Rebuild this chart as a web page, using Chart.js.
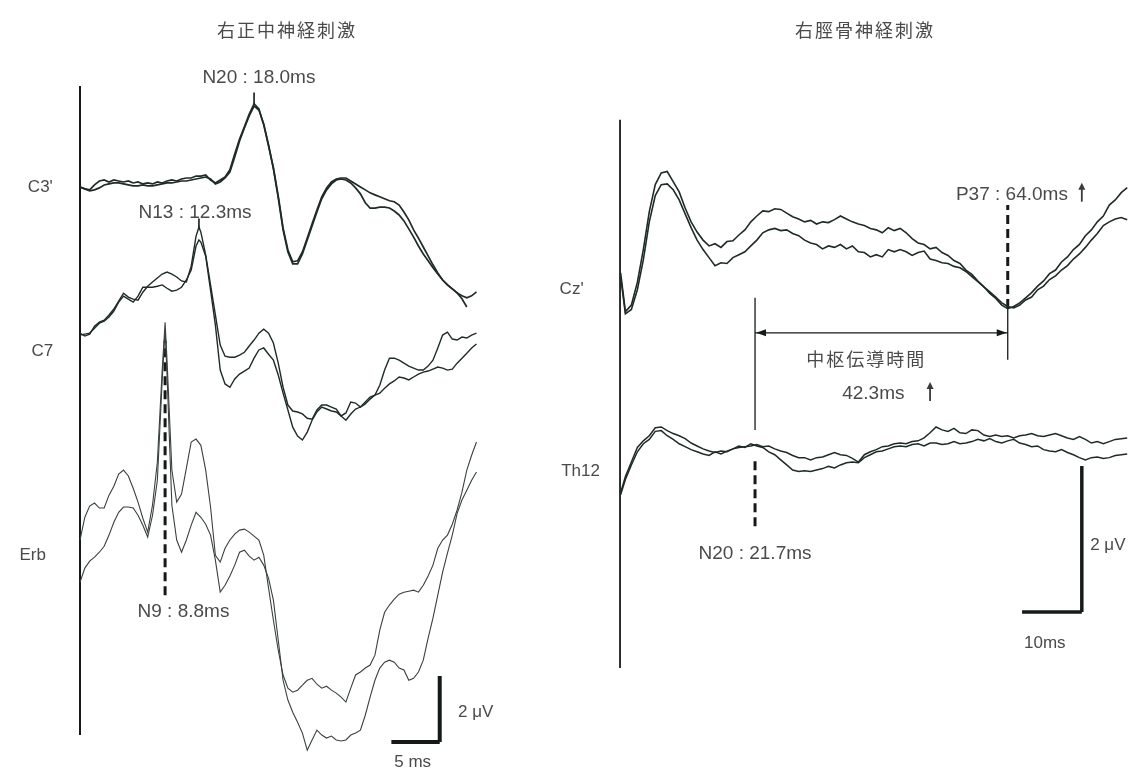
<!DOCTYPE html>
<html lang="ja">
<head>
<meta charset="utf-8">
<title>SEP 右正中神経・右脛骨神経刺激</title>
<script src="https://cdn.jsdelivr.net/npm/chart.js@4.4.1/dist/chart.umd.min.js"></script>
<style>
  html, body { margin: 0; padding: 0; background: #fff; }
  #wrap { width: 1142px; height: 773px; }
</style>
</head>
<body>
<div id="wrap"><canvas id="sep" width="1142" height="773"></canvas></div>
<script>
// ---- channel names and titles ----
const titles = ['右正中神経刺激', '右脛骨神経刺激'];
const leftChannels = ["C3'", 'C7', 'Erb'];
const rightChannels = ["Cz'", 'Th12'];
const cctLabel = '中枢伝導時間';

// ---- peak latencies (ms) ----
const leftPeaks = [
  { name: 'N20', ms: 18.0 },
  { name: 'N13', ms: 12.3 },
  { name: 'N9', ms: 8.8 }
];
const rightPeaks = [
  { name: 'N20', ms: 21.7 },
  { name: 'P37', ms: 64.0 }
];

// calibration bars
const leftScaleBar = { ms: 5, uv: 2 };
const rightScaleBar = { ms: 10, uv: 2 };

// ---- sample times (ms) ----
const c3Times = [0,0.5,1,1.5,2,2.5,3,3.5,4,4.5,5,5.5,6,6.5,7,7.5,8,8.5,9,9.5,10,10.5,11,11.5,12,12.5,13,13.5,14,14.5,15,15.5,16,16.5,17,17.5,18,18.5,19,19.5,20,20.5,21,21.5,22,22.5,23,23.5,24,24.5,25,25.5,26,26.5,27,27.5,28,28.5,29,29.5,30,30.5,31,31.5,32,32.5,33,33.5,34,34.5,35,35.5,36,36.5,37,37.5,38,38.5,39,39.5,40,40.5,41];
const c7Times = [0,0.5,1,1.5,2,2.5,3,3.5,4,4.5,5,5.5,6,6.5,7,7.5,8,8.5,9,9.5,10,10.5,11,11.5,12,12.3,12.5,13,13.5,14,14.5,15,15.5,16,16.5,17,17.5,18,18.5,19,19.5,20,20.5,21,21.5,22,22.5,23,23.5,24,24.5,25,25.5,26,26.5,27,27.5,28,28.5,29,29.5,30,30.5,31,31.5,32,32.5,33,33.5,34,34.5,35,35.5,36,36.5,37,37.5,38,38.5,39,39.5,40,40.5,41];
const erbTimes = [0,0.5,1,1.5,2,2.5,3,3.5,4,4.5,5,5.5,6,6.5,7,7.5,8,8.5,8.8,9,9.5,10,10.5,11,11.5,12,12.5,13,13.5,14,14.5,15,15.5,16,16.5,17,17.5,18,18.5,19,19.5,20,20.5,21,21.5,22,22.5,23,23.5,24,24.5,25,25.5,26,26.5,27,27.5,28,28.5,29,29.5,30,30.5,31,31.5,32,32.5,33,33.5,34,34.5,35,35.5,36,36.5,37,37.5,38,38.5,39,39.5,40,40.5,41];
const rightTimes = [-0.8,0,1,2,3,4,5,6,7,8,9,10,11,12,13,14,15,16,17,18,19,20,21,22,23,24,25,26,27,28,29,30,31,32,33,34,35,36,37,38,39,40,41,42,43,44,45,46,47,48,49,50,51,52,53,54,55,56,57,58,59,60,61,62,63,64,65,66,67,68,69,70,71,72,73,74,75,76,77,78,79,80,81,82,83,84];

// ---- amplitudes (uV, relative to each channel's baseline), two trials per channel ----
const c3TraceA = [
  0, -0.06, -0.09, 0.06, 0.18, 0.21, 0.15, 0.21, 0.18, 0.15,
  0.18, 0.12, 0.15, 0.09, 0.12, 0.09, 0.15, 0.12, 0.18, 0.21,
  0.18, 0.24, 0.27, 0.27, 0.33, 0.33, 0.36, 0.21, 0.12, 0.21,
  0.3, 0.52, 1.0, 1.45, 1.82, 2.21, 2.52, 2.36, 1.88, 1.24,
  0.58, -0.27, -1.24, -1.91, -2.27, -2.24, -1.97, -1.55, -1.12, -0.7,
  -0.3, -0.03, 0.15, 0.24, 0.27, 0.27, 0.18, 0.09, 0, -0.09,
  -0.18, -0.24, -0.3, -0.36, -0.42, -0.45, -0.55, -0.76, -1.0, -1.3,
  -1.55, -1.82, -2.09, -2.36, -2.61, -2.82, -2.97, -3.09, -3.21, -3.3,
  -3.36, -3.3, -3.18
];
const c3TraceB = [
  0, -0.06, -0.12, -0.09, -0.03, 0.06, 0.09, 0.12, 0.12, 0.09,
  0.06, 0.03, 0.03, 0.06, 0.03, 0.03, 0.06, 0.09, 0.12, 0.12,
  0.15, 0.18, 0.18, 0.21, 0.24, 0.27, 0.3, 0.24, 0.09, 0.15,
  0.27, 0.45, 0.91, 1.39, 1.79, 2.15, 2.45, 2.33, 1.91, 1.27,
  0.55, -0.33, -1.3, -1.97, -2.33, -2.33, -2.03, -1.61, -1.18, -0.76,
  -0.36, -0.09, 0.09, 0.21, 0.24, 0.21, 0.12, -0.03, -0.21, -0.48,
  -0.64, -0.64, -0.61, -0.61, -0.64, -0.73, -0.85, -1.03, -1.27, -1.52,
  -1.79, -2.03, -2.24, -2.45, -2.64, -2.82, -2.97, -3.09, -3.21, -3.39,
  -3.64
];
const c7TraceA = [
  0.06, -0.03, 0.03, 0.27, 0.39, 0.45, 0.61, 0.79, 1.03, 1.27,
  1.15, 1.09, 1.06, 1.3, 1.48, 1.61, 1.73, 1.85, 1.91, 1.85,
  1.76, 1.64, 1.61, 2.09, 3.0, 3.27, 3.12, 2.42, 1.52, 0.61, -0.3,
  -0.64, -0.67, -0.67, -0.61, -0.52, -0.33, -0.15, 0.06, 0.18, 0.06,
  -0.24, -0.85, -1.58, -2.12, -2.3, -2.33, -2.39, -2.52, -2.55, -2.27,
  -2.12, -2.12, -2.18, -2.24, -2.45, -2.36, -2.03, -2.06, -2.18, -2.09,
  -1.94, -1.82, -1.52, -1.06, -0.7, -0.7, -0.76, -0.85, -0.94, -1.0,
  -1.06, -1.06, -0.94, -0.76, -0.39, 0, 0.09, -0.12, -0.15, -0.06,
  -0.09, 0, 0.06
];
const c7TraceB = [
  0, 0.03, 0.06, 0.21, 0.36, 0.42, 0.55, 0.73, 1.0, 1.18,
  1.09, 1.0, 1.18, 1.45, 1.45, 1.45, 1.48, 1.52, 1.42, 1.33,
  1.36, 1.45, 1.67, 1.97, 2.7, 2.88, 2.82, 2.39, 1.36, 0.3, -1.06,
  -1.48, -1.58, -1.33, -1.18, -1.09, -1.0, -0.7, -0.45, -0.39, -0.58,
  -0.76, -1.21, -1.76, -2.27, -2.79, -3.06, -3.18, -2.94, -2.58, -2.33,
  -2.18, -2.24, -2.3, -2.33, -2.45, -2.58, -2.39, -2.24, -2.18, -2.03,
  -1.88, -1.82, -1.76, -1.61, -1.48, -1.39, -1.27, -1.3, -1.36, -1.27,
  -1.18, -1.12, -1.09, -1.03, -0.97, -1.0, -1.06, -1.03, -0.85, -0.7,
  -0.55, -0.39, -0.27
];
const erbTraceA = [
  0.61, 1.3, 1.64, 1.73, 1.58, 1.58, 1.97, 2.24, 2.61, 2.73,
  2.55, 2.18, 1.76, 1.27, 0.85, 1.67, 2.97, 5.76, 7.21, 6.06, 2.73,
  1.76, 2.0, 2.79, 3.58, 3.67, 3.48, 2.73, 1.61, 0.15, -0.06,
  0.36, 0.61, 0.79, 0.91, 0.94, 0.85, 0.73, 0.61, 0.15, -0.85,
  -1.82, -2.73, -3.48, -3.88, -4.0, -3.94, -3.79, -3.64, -3.58, -3.76,
  -3.88, -3.82, -3.94, -4.03, -4.15, -4.3, -3.88, -3.48, -3.39, -3.27,
  -3.18, -2.88, -2.12, -1.58, -1.36, -1.18, -1.03, -0.97, -0.94, -0.91,
  -0.97, -0.76, -0.48, -0.15, 0.36, 0.61, 0.76, 1.09, 1.52, 2.06,
  2.73, 3.18, 3.58
];
const erbTraceB = [
  -0.67, -0.24, -0.03, 0.09, 0.24, 0.42, 0.76, 1.15, 1.45, 1.61,
  1.61, 1.58, 1.36, 1.06, 0.7, 1.36, 2.42, 5.45, 6.97, 5.61, 1.67,
  0.61, 0.24, 0.61, 1.06, 1.45, 1.3, 1.09, 0.76, 0, -0.97,
  -0.76, -0.48, -0.15, 0.24, 0.3, 0.12, 0, 0.09, -0.15, -0.55,
  -1.21, -2.42, -3.64, -4.24, -4.61, -4.91, -5.24, -5.76, -5.45, -5.15,
  -5.3, -5.39, -5.33, -5.45, -5.48, -5.45, -5.3, -5.24, -5.15, -4.7,
  -4.15, -3.64, -3.27, -3.09, -3.03, -3.09, -3.27, -3.33, -3.64, -3.58,
  -3.39, -3.03, -2.36, -1.76, -1.06, -0.36, 0.21, 0.76, 1.42, 1.82,
  2.12, 2.42, 2.67
];
const czTraceA = [
  0.23, -0.3,
  -0.21, 0.1, 0.55, 1.07, 1.44, 1.6, 1.62, 1.48, 1.34, 1.12,
  0.93, 0.79, 0.68, 0.6, 0.63, 0.58, 0.66, 0.67, 0.75, 0.82,
  0.93, 1.01, 1.08, 1.07, 1.11, 1.1, 1.05, 1.0, 0.97, 0.93,
  0.95, 0.9, 0.93, 0.92, 0.96, 1.01, 0.97, 0.93, 0.9, 0.88,
  0.84, 0.82, 0.78, 0.85, 0.81, 0.84, 0.78, 0.7, 0.64, 0.62,
  0.56, 0.58, 0.51, 0.47, 0.4, 0.36, 0.27, 0.21, 0.12, 0.04,
  -0.05, -0.12, -0.21, -0.26, -0.23, -0.18, -0.11, -0.04, 0.05, 0.12,
  0.22, 0.27, 0.38, 0.45, 0.55, 0.62, 0.74, 0.82, 0.93, 1.01,
  1.16, 1.23, 1.33, 1.4
];
const czTraceB = [
  0.18, -0.33,
  -0.27, 0, 0.41, 0.93, 1.29, 1.44, 1.45, 1.37, 1.23, 1.04,
  0.85, 0.68, 0.55, 0.44, 0.33, 0.37, 0.36, 0.44, 0.48, 0.52,
  0.6, 0.68, 0.78, 0.82, 0.84, 0.81, 0.82, 0.77, 0.74, 0.68,
  0.64, 0.62, 0.56, 0.6, 0.58, 0.62, 0.56, 0.6, 0.52, 0.51,
  0.45, 0.48, 0.45, 0.55, 0.52, 0.55, 0.52, 0.47, 0.51, 0.53,
  0.42, 0.4, 0.37, 0.36, 0.32, 0.3, 0.25, 0.18, 0.11, 0.04,
  -0.03, -0.1, -0.18, -0.23, -0.25, -0.21, -0.14, -0.1, 0, 0.05,
  0.14, 0.19, 0.27, 0.33, 0.42, 0.49, 0.58, 0.68, 0.77, 0.88,
  0.93, 0.97, 0.99, 0.96
];
const thTraceA = [
  -0.52, -0.3,
  -0.1, 0.1, 0.19, 0.26, 0.37, 0.38, 0.33, 0.29, 0.26, 0.22,
  0.16, 0.12, 0.08, 0.05, 0.03, 0.05, 0.04, 0.08, 0.1, 0.11,
  0.12, 0.14, 0.11, 0.12, 0.08, 0.05, 0.03, -0.01, -0.04, -0.04,
  -0.07, -0.04, -0.03, 0, 0.03, 0, -0.01, -0.05, -0.1, 0,
  0.04, 0.07, 0.11, 0.12, 0.15, 0.16, 0.15, 0.18, 0.19, 0.23,
  0.3, 0.38, 0.34, 0.32, 0.36, 0.3, 0.29, 0.34, 0.33, 0.27,
  0.25, 0.27, 0.25, 0.26, 0.23, 0.26, 0.27, 0.29, 0.26, 0.25,
  0.27, 0.29, 0.26, 0.23, 0.21, 0.25, 0.21, 0.16, 0.18, 0.15,
  0.18, 0.21, 0.22, 0.23
];
const thTraceB = [
  -0.55, -0.34,
  -0.14, 0.04, 0.15, 0.21, 0.32, 0.33, 0.26, 0.21, 0.15, 0.11,
  0.07, 0.04, 0.01, -0.01, 0.04, 0.01, 0.05, 0.08, 0.12, 0.1,
  0.15, 0.12, 0.1, 0.04, 0, -0.07, -0.14, -0.21, -0.23, -0.22,
  -0.23, -0.21, -0.19, -0.16, -0.18, -0.14, -0.11, -0.1, -0.11, -0.04,
  0, 0.04, 0.05, 0.08, 0.11, 0.12, 0.11, 0.14, 0.15, 0.12,
  0.16, 0.16, 0.14, 0.15, 0.18, 0.15, 0.16, 0.18, 0.21, 0.19,
  0.22, 0.18, 0.16, 0.19, 0.21, 0.16, 0.14, 0.11, 0.12, 0.07,
  0.05, 0.04, 0.07, 0.03, 0, -0.04, -0.07, -0.04, -0.03, -0.05,
  -0.04, -0.01, 0, 0.01
];

// ---- page geometry: where t = 0 sits and the gain of each panel ----
const W = 1142, H = 773;
const LEFT = { x0: 80, pxPerMs: 9.67, pxPerUv: 33 };
const RIGHT = { x0: 625.4, pxPerMs: 5.974, pxPerUv: 73 };
// channel baselines on each panel's uV axis (stack offsets)
const leftOffsets = [17.76, 13.27, 6.45];
const rightOffsets = [6.62, 4.36];

const INK = '#1f2b26';
const TEXT = '#4a4a4a';
const LATIN = '"Liberation Sans", Arial, sans-serif';
const CJK = '"Noto Sans CJK JP", sans-serif';

function trace(times, values, offset, side, width, color) {
  return {
    data: values.map((v, i) => ({ x: times[i], y: offset + v })),
    xAxisID: 'x' + side, yAxisID: 'y' + side,
    borderColor: color || INK, borderWidth: width,
    pointRadius: 0, tension: 0, fill: false, clip: false
  };
}

function segment(side, x1, y1, x2, y2, width, dash) {
  return {
    data: [{ x: x1, y: y1 }, { x: x2, y: y2 }],
    xAxisID: 'x' + side, yAxisID: 'y' + side,
    borderColor: '#151a18', borderWidth: width, borderDash: dash || [],
    borderCapStyle: 'butt', pointRadius: 0, fill: false, clip: false
  };
}

const [n20, n13, n9] = leftPeaks;
const [n20r, p37] = rightPeaks;
const cct = +(p37.ms - n20r.ms).toFixed(1);

const datasets = [
  trace(c3Times, c3TraceA, leftOffsets[0], 'L', 1.7),
  trace(c3Times, c3TraceB, leftOffsets[0], 'L', 1.7),
  trace(c7Times, c7TraceA, leftOffsets[1], 'L', 1.4),
  trace(c7Times, c7TraceB, leftOffsets[1], 'L', 1.4),
  trace(erbTimes, erbTraceA, leftOffsets[2], 'L', 1.1, '#3a413d'),
  trace(erbTimes, erbTraceB, leftOffsets[2], 'L', 1.1, '#3a413d'),
  trace(rightTimes, czTraceA, rightOffsets[0], 'R', 1.6),
  trace(rightTimes, czTraceB, rightOffsets[0], 'R', 1.6),
  trace(rightTimes, thTraceA, rightOffsets[1], 'R', 1.5),
  trace(rightTimes, thTraceB, rightOffsets[1], 'R', 1.5),

  // left panel: stimulus line, peak ticks, N9 marker, calibration
  segment('L', 0, 1.15, 0, 20.82, 2),
  segment('L', n20.ms, 20.25, n20.ms, 20.62, 1.6),
  segment('L', n13.ms, 16.5, n13.ms, 16.8, 1.6),
  segment('L', n9.ms, 5.39, n9.ms, 13.1, 3, [9, 5]),
  segment('L', 37.2 - leftScaleBar.ms, 0.94, 37.2, 0.94, 4),
  segment('L', 37.2, 0.94, 37.2, 0.94 + leftScaleBar.uv, 4),

  // right panel: stimulus line, P37 / N20 markers, conduction bracket, calibration
  segment('R', -0.9, 1.44, -0.9, 8.95, 1.8),
  segment('R', p37.ms, 6.37, p37.ms, 7.78, 3, [9, 5]),
  segment('R', p37.ms, 5.66, p37.ms, 6.37, 1.3),
  segment('R', n20r.ms, 4.70, n20r.ms, 6.51, 1.3),
  segment('R', n20r.ms, 3.38, n20r.ms, 4.29, 3, [9, 5]),
  segment('R', n20r.ms, 6.03, p37.ms, 6.03, 1.3),
  segment('R', 76.4 - rightScaleBar.ms, 2.205, 76.4, 2.205, 3.5),
  segment('R', 76.4, 2.205, 76.4, 2.205 + rightScaleBar.uv, 3.5)
];

const fmt = p => p.name + ' : ' + p.ms.toFixed(1) + 'ms';
const chartTexts = [
  { side: 'L', x: 21.4, y: 22.52, text: titles[0], font: '18px ' + CJK, spacing: '2px' },
  { side: 'R', x: 40.1, y: 10.18, text: titles[1], font: '18px ' + CJK, spacing: '2px' },
  { side: 'L', x: -4.1, y: leftOffsets[0], text: leftChannels[0], font: '17px ' + LATIN },
  { side: 'L', x: -3.9, y: 12.79, text: leftChannels[1], font: '17px ' + LATIN },
  { side: 'L', x: -4.9, y: 6.6, text: leftChannels[2], font: '17px ' + LATIN },
  { side: 'R', x: -9.0, y: 6.62, text: rightChannels[0], font: '17px ' + LATIN },
  { side: 'R', x: -7.5, y: 4.13, text: rightChannels[1], font: '17px ' + LATIN },
  { side: 'L', x: n20.ms + 0.5, y: 21.06, text: fmt(n20), font: '19px ' + LATIN },
  { side: 'L', x: n13.ms - 0.4, y: 16.97, text: fmt(n13), font: '19px ' + LATIN },
  { side: 'L', x: n9.ms + 1.9, y: 4.88, text: fmt(n9), font: '19px ' + LATIN },
  { side: 'L', x: 39.1, y: 1.85, text: leftScaleBar.uv + ' μV', font: '17px ' + LATIN, align: 'left' },
  { side: 'L', x: 34.4, y: 0.33, text: leftScaleBar.ms + ' ms', font: '17px ' + LATIN },
  { side: 'R', x: p37.ms + 0.7, y: 7.92, text: fmt(p37), font: '19px ' + LATIN },
  { side: 'R', x: 40.3, y: 5.67, text: cctLabel, font: '18px ' + CJK, spacing: '2px' },
  { side: 'R', x: 41.5, y: 5.19, text: cct.toFixed(1) + 'ms', font: '19px ' + LATIN },
  { side: 'R', x: n20r.ms, y: 3.01, text: fmt(n20r), font: '19px ' + LATIN },
  { side: 'R', x: 77.8, y: 3.12, text: rightScaleBar.uv + ' μV', font: '17px ' + LATIN, align: 'left' },
  { side: 'R', x: 70.2, y: 1.78, text: rightScaleBar.ms + 'ms', font: '17px ' + LATIN }
];
// small "prolonged" arrows after the P37 latency and the conduction time
const upArrows = [
  { side: 'R', x: 76.4, y: 7.95 },
  { side: 'R', x: 51.0, y: 5.22 }
];

// labels, up-arrows and the arrowheads of the conduction-time bracket
const annotations = {
  id: 'annotations',
  afterDatasetsDraw(chart) {
    const { ctx, scales } = chart;
    ctx.save();
    for (const t of chartTexts) {
      ctx.font = t.font;
      ctx.fillStyle = TEXT;
      ctx.textAlign = t.align || 'center';
      ctx.textBaseline = 'middle';
      ctx.letterSpacing = t.spacing || '0px';
      ctx.fillText(t.text, scales['x' + t.side].getPixelForValue(t.x), scales['y' + t.side].getPixelForValue(t.y));
    }
    ctx.strokeStyle = '#3a3a3a';
    ctx.fillStyle = '#3a3a3a';
    ctx.lineWidth = 1.8;
    for (const a of upArrows) {
      const x = scales['x' + a.side].getPixelForValue(a.x);
      const y = scales['y' + a.side].getPixelForValue(a.y);
      ctx.beginPath();
      ctx.moveTo(x, y + 9); ctx.lineTo(x, y - 4);
      ctx.stroke();
      ctx.beginPath();
      ctx.moveTo(x, y - 10); ctx.lineTo(x - 3.5, y - 3); ctx.lineTo(x + 3.5, y - 3); ctx.closePath();
      ctx.fill();
    }
    const y = scales.yR.getPixelForValue(6.03);
    const xa = scales.xR.getPixelForValue(n20r.ms);
    const xb = scales.xR.getPixelForValue(p37.ms);
    ctx.fillStyle = '#151a18';
    ctx.beginPath();
    ctx.moveTo(xa + 1, y); ctx.lineTo(xa + 11, y - 3.5); ctx.lineTo(xa + 11, y + 3.5); ctx.closePath();
    ctx.moveTo(xb - 1, y); ctx.lineTo(xb - 11, y - 3.5); ctx.lineTo(xb - 11, y + 3.5); ctx.closePath();
    ctx.fill();
    ctx.restore();
  }
};

new Chart(document.getElementById('sep'), {
  type: 'line',
  data: { datasets },
  plugins: [annotations],
  options: {
    responsive: false,
    animation: false,
    devicePixelRatio: 1,
    layout: { padding: 0 },
    plugins: { legend: { display: false }, tooltip: { enabled: false } },
    scales: {
      xL: { type: 'linear', axis: 'x', display: false, min: -LEFT.x0 / LEFT.pxPerMs, max: (W - LEFT.x0) / LEFT.pxPerMs },
      yL: { type: 'linear', axis: 'y', display: false, min: 0, max: H / LEFT.pxPerUv },
      xR: { type: 'linear', axis: 'x', display: false, min: -RIGHT.x0 / RIGHT.pxPerMs, max: (W - RIGHT.x0) / RIGHT.pxPerMs },
      yR: { type: 'linear', axis: 'y', display: false, min: 0, max: H / RIGHT.pxPerUv }
    }
  }
});
</script>
</body>
</html>
